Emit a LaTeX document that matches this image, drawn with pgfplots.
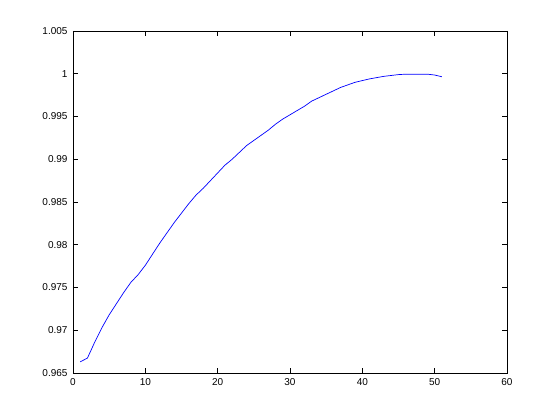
\documentclass[border=0pt]{standalone}
\usepackage{fontspec}
\setmainfont{Liberation Sans}
\usepackage{pgfplots}
\pgfplotsset{compat=1.18}
\begin{document}
\begin{tikzpicture}[x=1pt,y=1pt]
\begin{axis}[
  at={(0,0)}, anchor=south west,
  scale only axis, width=434pt, height=342pt,
  xmin=0, xmax=60, ymin=0.965, ymax=1.005,
  xtick={0,10,20,30,40,50,60},
  ytick={0.965,0.97,0.975,0.98,0.985,0.99,0.995,1,1.005},
  yticklabels={0.965,0.97,0.975,0.98,0.985,0.99,0.995,1,1.005},
  xticklabels={0,10,20,30,40,50,60},
  tick align=inside, major tick length=5pt,
  tick style={black, line width=0.5pt},
  axis line style={line width=0.5pt},
  ticklabel style={font=\fontsize{10}{12}\selectfont},
  /pgf/number format/assume math mode=true,
  xticklabel style={yshift=-2pt},
  yticklabel style={xshift=-2pt},
]
\addplot[blue, line width=0.7pt, mark=none] coordinates {
(1,0.96630) (2,0.96675) (3,0.96860) (4,0.97030) (5,0.97180)
(6,0.97310) (7,0.97440) (8,0.97560) (9,0.97650) (10,0.97760)
(11,0.97890) (12,0.98020) (13,0.98140) (14,0.98260) (15,0.98370)
(16,0.98480) (17,0.98580) (18,0.98660) (19,0.98750) (20,0.98840)
(21,0.98930) (22,0.99000) (23,0.99080) (24,0.99160) (25,0.99220)
(26,0.99280) (27,0.99340) (28,0.99410) (29,0.99470) (30,0.99520)
(31,0.99570) (32,0.99620) (33,0.99680) (34,0.99720) (35,0.99760)
(36,0.99800) (37,0.99840) (38,0.99870) (39,0.99900) (40,0.99920)
(41,0.99940) (42,0.99955) (43,0.99970) (44,0.99980) (45,0.99990)
(46,0.99995) (47,0.99995) (48,0.99995) (49,0.99995) (50,0.99985)
(51,0.99965)
};
\end{axis}
\pgfresetboundingbox
\useasboundingbox (-73,-47) rectangle (487,373);
\end{tikzpicture}
\end{document}
